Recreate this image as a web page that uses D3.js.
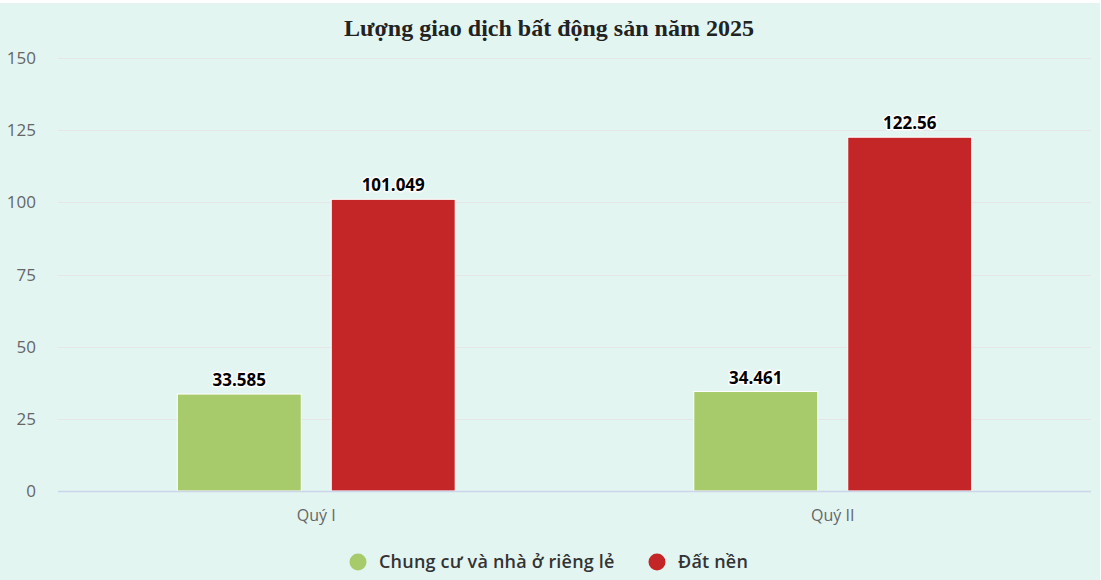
<!DOCTYPE html>
<html><head><meta charset="utf-8">
<script src="https://cdn.jsdelivr.net/npm/d3@7"></script>
<style>html,body{margin:0;padding:0;background:#fff;}svg{display:block;}</style>
</head><body>
<script>
const categories = ["Quý I", "Quý II"];
const seriesNames = ["Chung cư và nhà ở riêng lẻ", "Đất nền"];
const chungCu = [33.585, 34.461];
const datNen = [101.049, 122.56];
const yTicks = [0, 25, 50, 75, 100, 125, 150];
const labelsChungCu = ["33.585", "34.461"];
const labelsDatNen = ["101.049", "122.56"];
const colors = ["#a7ca6b", "#c42526"];

(function () {
const W = 1101, H = 580;
const svg = d3.select("body").append("svg").attr("width", W).attr("height", H);
svg.append("rect").attr("x", 0).attr("y", 3).attr("width", 1100).attr("height", H - 3).attr("fill", "#e3f5f1");

const pL = 58, pR = 1091, pT = 58, pB = 491;
const y = d3.scaleLinear().domain([0, 150]).range([pB, pT]);
const x0 = d3.scaleBand().domain(categories).range([pL, pR]).paddingInner(0).paddingOuter(0);
const x1 = d3.scaleBand().domain(seriesNames).range([0, x0.bandwidth()]).paddingInner(0.195).paddingOuter(0.775);

// grid
svg.append("g").selectAll("line").data(yTicks.filter(d => d > 0)).join("line")
  .attr("x1", pL).attr("x2", pR).attr("y1", d => Math.round(y(d)) + 0.5).attr("y2", d => Math.round(y(d)) + 0.5)
  .attr("stroke", "#e6e6e6").attr("stroke-width", 1);

// y labels
svg.append("g").selectAll("text").data(yTicks).join("text")
  .attr("x", 36).attr("y", d => y(d) + 6).attr("text-anchor", "end")
  .attr("font-family", "'Open Sans', sans-serif").attr("font-size", 17).attr("fill", "#666")
  .text(d => d);

// bars
const series = [chungCu, datNen];
const labels = [labelsChungCu, labelsDatNen];
const g = svg.append("g");
series.forEach((vals, si) => {
  categories.forEach((c, ci) => {
    const bx = x0(c) + x1(seriesNames[si]);
    g.append("rect")
      .attr("x", bx).attr("y", y(vals[ci])).attr("width", x1.bandwidth()).attr("height", pB - y(vals[ci]))
      .attr("fill", colors[si]).attr("stroke", "#fff").attr("stroke-width", 1);
  });
});

// axis line
svg.append("line").attr("x1", pL).attr("x2", pR).attr("y1", pB + 0.5).attr("y2", pB + 0.5)
  .attr("stroke", "#ccd6eb").attr("stroke-width", 1.5);

// data labels
series.forEach((vals, si) => {
  categories.forEach((c, ci) => {
    const cx = x0(c) + x1(seriesNames[si]) + x1.bandwidth() / 2;
    svg.append("text")
      .attr("x", cx).attr("y", y(vals[ci]) - 8).attr("text-anchor", "middle")
      .attr("font-family", "'Open Sans', sans-serif").attr("font-weight", 700).attr("font-size", 17)
      .attr("fill", "#000").attr("stroke", "#fff").attr("stroke-width", 3).attr("stroke-linejoin", "round")
      .attr("paint-order", "stroke")
      .text(labels[si][ci]);
  });
});

// x labels
svg.append("g").selectAll("text").data(categories).join("text")
  .attr("x", d => x0(d) + x0.bandwidth() / 2).attr("y", 521).attr("text-anchor", "middle")
  .attr("font-family", "'Open Sans', sans-serif").attr("font-size", 16).attr("fill", "#666")
  .text(d => d);

// title
svg.append("text").attr("x", 549).attr("y", 36).attr("text-anchor", "middle")
  .attr("font-family", "'Liberation Serif', 'Times New Roman', serif").attr("font-weight", "bold").attr("font-size", 24)
  .attr("fill", "#222").text("Lượng giao dịch bất động sản năm 2025");

// legend
const legendItems = [
  { name: seriesNames[0], color: colors[0], cx: 358 },
  { name: seriesNames[1], color: colors[1], cx: 657 }
];
legendItems.forEach(it => {
  svg.append("circle").attr("cx", it.cx).attr("cy", 562).attr("r", 8.5).attr("fill", it.color);
  svg.append("text").attr("x", it.cx + 21).attr("y", 568)
    .attr("font-family", "'Open Sans', sans-serif").attr("font-weight", 600).attr("font-size", 18)
    .attr("letter-spacing", 0.2)
    .attr("fill", "#333").text(it.name);
});
})();
</script>
</body></html>
